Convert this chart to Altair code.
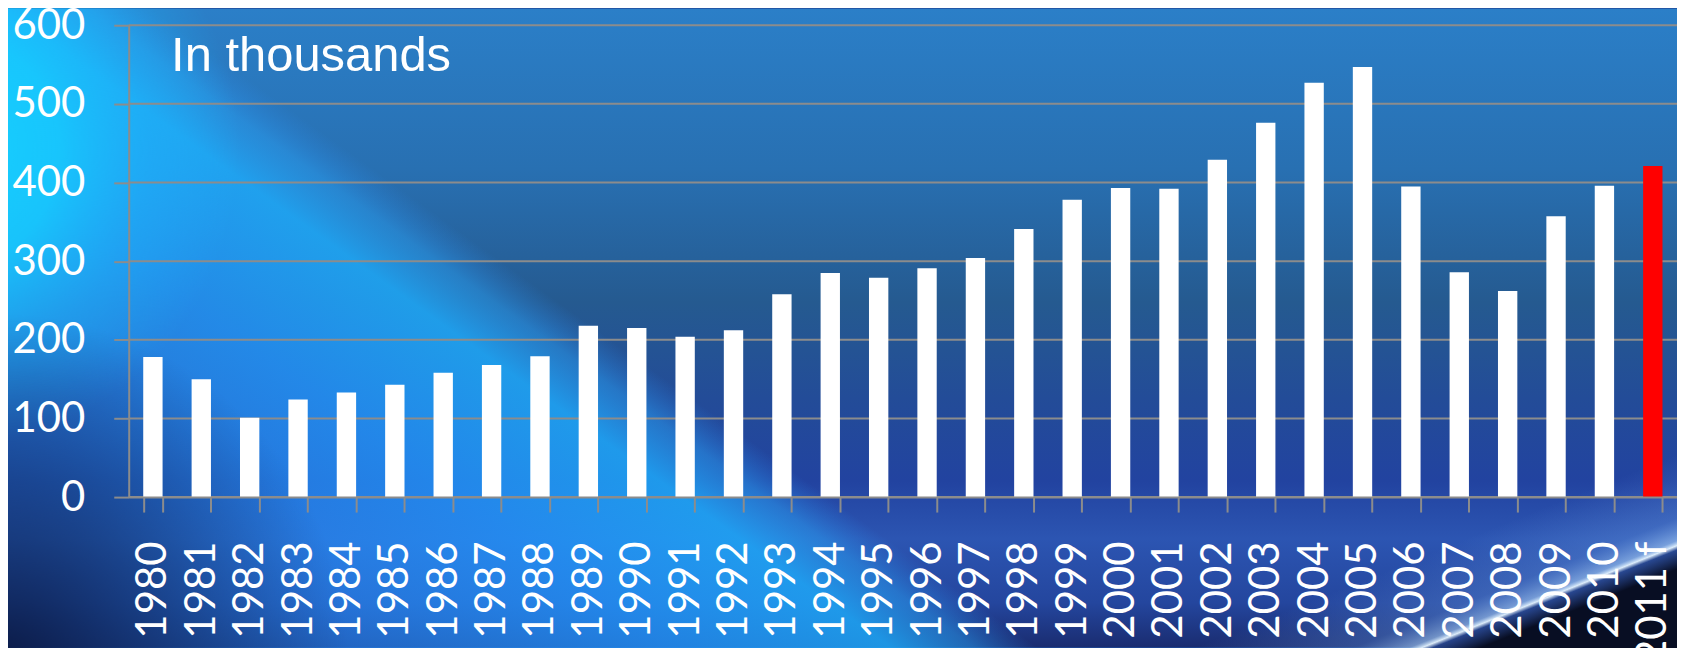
import altair as alt
import pandas as pd

# ---- data ----
years = ["1980", "1981", "1982", "1983", "1984", "1985", "1986", "1987", "1988", "1989",
         "1990", "1991", "1992", "1993", "1994", "1995", "1996", "1997", "1998", "1999",
         "2000", "2001", "2002", "2003", "2004", "2005", "2006", "2007", "2008", "2009",
         "2010", "2011 f"]
values = [178, 150, 101, 124, 133, 143, 158, 168, 179, 218,
          215, 204, 212, 258, 285, 279, 291, 304, 341, 378,
          393, 392, 429, 476, 527, 547, 395, 286, 262, 357,
          396, 421]
kinds = ["actual"] * 31 + ["forecast"]
y_ticks = [0, 100, 200, 300, 400, 500, 600]
note_text = ["In thousands"]

df = pd.DataFrame({"year": years, "value": values, "kind": kinds})
grid_df = pd.DataFrame({"v": y_ticks})
one = pd.DataFrame({"a": [0]})
note_df = pd.DataFrame({"t": note_text})

W, H = 1552, 473
PL, PT, PB = 121, 16.5, 150
OX, OY = 129, 24.5  # page position of the plot origin

GRID = "#8c8c8c"


def px(x):
    return x - OX


def py(y):
    return y - OY


def stops(pairs):
    return [alt.GradientStop(color=c, offset=o) for o, c in pairs]


def bg_rect(fill, x0, x1, y0, y1):
    return alt.Chart(one).mark_rect(fill=fill, strokeWidth=0).encode(
        x=alt.value(px(x0)), x2=alt.value(px(x1)),
        y=alt.value(py(y0)), y2=alt.value(py(y1)),
    )


# ---- decorative background (slide-like blue gradient) ----
base_grad = alt.LinearGradient(
    gradient="linear", x1=0, y1=0, x2=0, y2=1,
    stops=stops([
        (0, "#2b7fc8"), (0.25, "#2870b2"), (0.46, "#255a90"), (0.61, "#234c98"),
        (0.74, "#2243a0"), (0.83, "#2c55b2"), (0.93, "#24469e"), (1, "#1a2c70"),
    ]),
)
bg_base = bg_rect(base_grad, 8, 1681, 8, 648)

# bright blue region left of a diagonal boundary
diag_grad = alt.LinearGradient(
    gradient="linear", x1=0, y1=1, x2=1, y2=0,
    stops=stops([
        (0, "rgba(42,135,248,0)"), (0.59, "rgba(42,135,248,0.35)"),
        (0.65, "rgba(40,140,250,0.6)"), (0.7, "rgba(35,150,252,0.8)"),
        (0.735, "rgba(30,172,252,0.82)"), (0.748, "rgba(40,160,245,0.5)"),
        (0.758, "rgba(42,140,240,0)"), (1, "rgba(42,140,240,0)"),
    ]),
)
bg_diag = bg_rect(diag_grad, -1500, 1700, 8, 2312)

# cyan glow at the left edge
cyan_grad = alt.RadialGradient(
    gradient="radial", x1=0.5, y1=0.5, r1=0, x2=0.5, y2=0.5, r2=0.5,
    stops=stops([
        (0, "rgba(20,215,255,0.95)"), (0.4, "rgba(22,205,255,0.85)"),
        (0.7, "rgba(28,185,252,0.45)"), (1, "rgba(28,185,252,0)"),
    ]),
)
bg_cyan = bg_rect(cyan_grad, -360, 240, -150, 450)

# darker bottom-left corner
dark_grad = alt.RadialGradient(
    gradient="radial", x1=0.5, y1=0.5, r1=0, x2=0.5, y2=0.5, r2=0.5,
    stops=stops([
        (0, "rgba(8,18,55,0.85)"), (0.45, "rgba(10,22,65,0.5)"),
        (1, "rgba(10,22,65,0)"),
    ]),
)
bg_dark = bg_rect(dark_grad, -350, 350, 314, 1014)

# light streak and dark corner at the bottom right
streak_grad = alt.LinearGradient(
    gradient="linear", x1=0, y1=0, x2=1, y2=1,
    stops=stops([
        (0, "rgba(110,160,230,0)"), (0.5, "rgba(110,160,230,0)"),
        (0.6, "rgba(110,160,230,0.3)"), (0.635, "rgba(170,210,250,0.6)"),
        (0.643, "rgba(230,245,255,0.95)"), (0.65, "rgba(40,70,140,0.85)"),
        (0.68, "rgba(8,14,35,1)"), (1, "rgba(8,14,35,1)"),
    ]),
)
bg_streak = bg_rect(streak_grad, 900, 1700, 447, 767)

# ---- grid lines ----
y_axis = alt.Axis(title=None, values=y_ticks, zindex=1)
grid = alt.Chart(grid_df).mark_rule(color=GRID, strokeWidth=2).encode(
    y=alt.Y("v:Q", scale=alt.Scale(domain=[0, 600]), axis=y_axis)
)

# ---- bars ----
bars = alt.Chart(df).mark_bar().encode(
    x=alt.X("year:N", sort=years,
            scale=alt.Scale(paddingInner=0.6, paddingOuter=0.3),
            axis=alt.Axis(title=None, zindex=1, labelAngle=-90, tickBand="extent")),
    y=alt.Y("value:Q", scale=alt.Scale(domain=[0, 600]), axis=y_axis),
    color=alt.Color("kind:N", legend=None,
                    scale=alt.Scale(domain=["actual", "forecast"],
                                    range=["#ffffff", "#ff0000"])),
)

note = alt.Chart(note_df).mark_text(
    font="Liberation Sans", fontSize=49, color="white",
    align="left", baseline="alphabetic"
).encode(text="t:N", x=alt.value(42.5), y=alt.value(46.2))

chart = alt.layer(bg_base, bg_diag, bg_cyan, bg_dark, bg_streak, grid, bars, note).properties(
    width=W, height=H,
    autosize=alt.AutoSizeParams(type="none"),
    padding={"left": PL, "top": PT, "right": 0, "bottom": PB},
    background="#1e4a9a",
).configure_axis(
    labelFont="Lato", labelFontSize=42, labelColor="white",
    tickColor=GRID, tickWidth=2, tickSize=15,
    domainColor=GRID, domainWidth=2, grid=False,
    labelPadding=29,
).configure_view(stroke=None)

chart.save("out.html", embed_options={"renderer": "svg", "actions": False})
